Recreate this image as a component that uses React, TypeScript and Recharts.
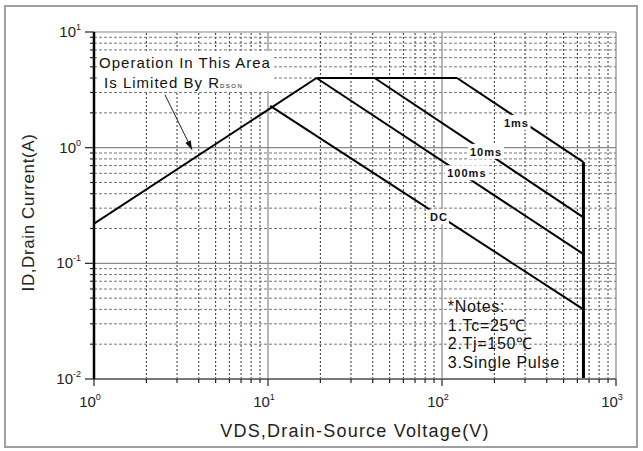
import React from 'react'
import {
  LineChart,
  Line,
  XAxis,
  YAxis,
  ReferenceLine,
  ReferenceDot,
} from 'recharts'

// SOA curves (VDS in V, ID in A)
const rdsonV = [1, 19]
const rdsonI = [0.22, 4]
const topV = [19, 122]
const topI = [4, 4]
const dcV = [10.3, 650]
const dcI = [2.3, 0.04]
const ms100V = [19, 650]
const ms100I = [4, 0.12]
const ms10V = [41, 650]
const ms10I = [4, 0.25]
const ms1V = [122, 650]
const ms1I = [4, 0.75]
const limitV = [650, 650]
const limitI = [0.75, 0.01]

const xMajor = [1, 10, 100, 1000]
const yMajor = [0.01, 0.1, 1, 10]
const xTicks = [1, 2, 3, 4, 5, 6, 7, 8, 9, 10, 20, 30, 40, 50, 60, 70, 80, 90, 100, 200, 300, 400, 500, 600, 700, 800, 900, 1000]
const yTicks = [0.01, 0.02, 0.03, 0.04, 0.05, 0.06, 0.07, 0.08, 0.09, 0.1, 0.2, 0.3, 0.4, 0.5, 0.6, 0.7, 0.8, 0.9, 1, 2, 3, 4, 5, 6, 7, 8, 9, 10]
const xMinor = xTicks.filter((t) => !xMajor.includes(t))
const yMinor = yTicks.filter((t) => !yMajor.includes(t))

const curveLabels = [
  { v: 268, i: 1.64, text: '1ms' },
  { v: 179, i: 0.92, text: '10ms' },
  { v: 139, i: 0.6, text: '100ms' },
  { v: 96, i: 0.25, text: 'DC' },
]

const notes = ['*Notes:', '1.Tc=25\u2103', '2.Tj=150\u2103', '3.Single Pulse']

const toPts = (vs: number[], is: number[]) => vs.map((v, k) => ({ v, i: is[k] }))

const FONT = '"Liberation Sans", Arial, sans-serif'

const expOf = (t: number) => Math.round(Math.log10(t))

const XTick = ({ x, y, payload }: any) => {
  const major = xMajor.includes(payload.value)
  return (
    <g>
      <line x1={x} y1={y} x2={x} y2={y + (major ? 7 : 4)} stroke="#222" strokeWidth={1.2} />
      {major && (
        <text x={x - 4} y={y + 28} textAnchor="middle" fontFamily={FONT} fontSize={15} fill="#222">
          10
          <tspan dy={-7} fontSize={9}>{expOf(payload.value)}</tspan>
        </text>
      )}
    </g>
  )
}

const YTick = ({ x, y, payload }: any) => {
  const major = yMajor.includes(payload.value)
  return (
    <g>
      <line x1={x} y1={y} x2={x - (major ? 9 : 4)} y2={y} stroke="#222" strokeWidth={1.2} />
      {major && (
        <text x={x - 13} y={y + 5} textAnchor="end" fontFamily={FONT} fontSize={15} fill="#222">
          10
          <tspan dy={-7} fontSize={9}>{expOf(payload.value)}</tspan>
        </text>
      )}
    </g>
  )
}

const XTitle = ({ viewBox }: any) => (
  <text
    x={viewBox.x + viewBox.width / 2}
    y={viewBox.y + viewBox.height - 14}
    textAnchor="middle"
    fontFamily={FONT}
    fontSize={18}
    letterSpacing={1.2}
    fill="#222"
  >
    VDS,Drain-Source Voltage(V)
  </text>
)

const YTitle = ({ viewBox }: any) => {
  const cx = viewBox.x + 34
  const cy = viewBox.y + viewBox.height / 2 + 7
  return (
    <text
      x={cx}
      y={cy}
      transform={`rotate(-90, ${cx}, ${cy})`}
      textAnchor="middle"
      fontFamily={FONT}
      fontSize={17}
      letterSpacing={0.6}
      fill="#222"
    >
      ID,Drain Current(A)
    </text>
  )
}

const CurveLabel = ({ cx, cy, text }: any) => {
  const w = text.length * 8 + 4
  return (
    <g>
      <rect x={cx - w / 2} y={cy - 8} width={w} height={15} fill="#fff" />
      <text x={cx} y={cy + 4} textAnchor="middle" fontFamily={FONT} fontSize={11} fontWeight="bold" letterSpacing={1} fill="#111">
        {text}
      </text>
    </g>
  )
}

const AreaNote = ({ cx, cy }: any) => (
  <g fontFamily={FONT} fill="#111" fontSize={15} letterSpacing={1}>
    <rect x={cx - 2} y={cy - 12} width={176} height={40} fill="#fff" />
    <text x={cx} y={cy + 5}>Operation In This Area</text>
    <text x={cx + 5} y={cy + 25}>
      Is Limited By R<tspan fontSize={6} letterSpacing={1.5}>DSON</tspan>
    </text>
  </g>
)

const ArrowHead = ({ cx, cy }: any) => (
  <polygon points="0,0 -9,-3 -9,3" transform={`translate(${cx},${cy}) rotate(63.8)`} fill="#111" />
)

const Notes = ({ cx, cy }: any) => (
  <g fontFamily={FONT} fontSize={16} letterSpacing={0.7} fill="#111">
    {notes.map((n, k) => (
      <text key={k} x={cx} y={cy + k * 18.5}>{n}</text>
    ))}
  </g>
)

export default function App() {
  const series = [
    toPts(rdsonV, rdsonI),
    toPts(topV, topI),
    toPts(dcV, dcI),
    toPts(ms100V, ms100I),
    toPts(ms10V, ms10I),
    toPts(ms1V, ms1I),
  ]
  return (
    <div style={{ position: 'absolute', left: 0, top: 0, width: 643, height: 451, background: '#fff' }}>
      <div
        style={{
          position: 'absolute',
          left: 4,
          top: 5,
          width: 634,
          height: 443,
          border: '2px solid #a0a0a0',
          boxSizing: 'border-box',
          pointerEvents: 'none',
        }}
      />
      <LineChart width={643} height={451} margin={{ top: 32, right: 27, bottom: 0, left: 0 }}>
        <XAxis
          dataKey="v"
          type="number"
          scale="log"
          domain={[1, 1000]}
          ticks={xTicks}
          interval={0}
          allowDataOverflow
          height={72}
          tickSize={0}
          tickMargin={0}
          tick={<XTick />}
          axisLine={{ stroke: '#777', strokeWidth: 2 }}
          label={<XTitle />}
        />
        <YAxis
          dataKey="i"
          type="number"
          scale="log"
          domain={[0.01, 10]}
          ticks={yTicks}
          interval={0}
          allowDataOverflow
          width={94}
          tickSize={0}
          tickMargin={0}
          tick={<YTick />}
          axisLine={{ stroke: '#000', strokeWidth: 2.5 }}
          label={<YTitle />}
        />
        {xMinor.map((t) => (
          <ReferenceLine key={`xm${t}`} x={t} stroke="#333" strokeWidth={1} strokeDasharray="2 2" />
        ))}
        {yMinor.map((t) => (
          <ReferenceLine key={`ym${t}`} y={t} stroke="#777" strokeWidth={1} strokeDasharray="3 2" />
        ))}
        {[10, 100, 1000].map((t) => (
          <ReferenceLine key={`xM${t}`} x={t} stroke="#888" strokeWidth={1.2} />
        ))}
        {[0.1, 1, 10].map((t) => (
          <ReferenceLine key={`yM${t}`} y={t} stroke="#888" strokeWidth={1.2} />
        ))}
        {series.map((d, k) => (
          <Line
            key={`s${k}`}
            data={d}
            dataKey="i"
            stroke="#000"
            strokeWidth={2}
            dot={false}
            isAnimationActive={false}
          />
        ))}
        <Line
          data={toPts(limitV, limitI)}
          dataKey="i"
          stroke="#000"
          strokeWidth={3}
          dot={false}
          isAnimationActive={false}
        />
        {curveLabels.map((l) => (
          <ReferenceDot key={l.text} x={l.v} y={l.i} r={0} shape={(p: any) => <CurveLabel {...p} text={l.text} />} />
        ))}
        <ReferenceDot x={1.07} y={5.4} r={0} shape={(p: any) => <AreaNote {...p} />} />
        <ReferenceLine
          segment={[
            { x: 2.56, y: 2.86 },
            { x: 3.66, y: 0.96 },
          ]}
          stroke="#222"
          strokeWidth={1}
        />
        <ReferenceDot x={3.66} y={0.96} r={0} shape={(p: any) => <ArrowHead {...p} />} />
        <ReferenceDot x={108} y={0.0378} r={0} shape={(p: any) => <Notes {...p} />} />
      </LineChart>
    </div>
  )
}
